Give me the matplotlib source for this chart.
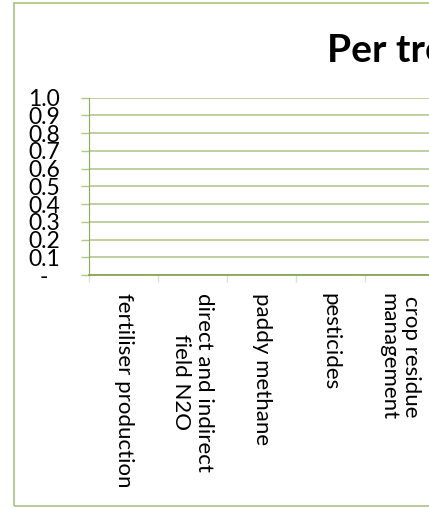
import matplotlib
matplotlib.use("Agg")
import matplotlib.pyplot as plt
from matplotlib.patches import Rectangle
import numpy as np

# Emission sources and their values (tonnes CO2e)
categories = [
    "fertiliser production",
    "direct and indirect\nfield N2O",
    "paddy methane",
    "pesticides",
    "crop residue\nmanagement",
]
values = [0, 0, 0, 0, 0]
y_ticks = [0.0, 0.1, 0.2, 0.3, 0.4, 0.5, 0.6, 0.7, 0.8, 0.9, 1.0]
title = "Per treatment"

W, H = 429, 508
DPI = 100
plt.rcParams["font.family"] = ["Lato", "DejaVu Sans"]

grid_c = "#b3c98c"
axis_c = "#80a04c"
tick_c = "#d9e3c7"

fig = plt.figure(figsize=(W / DPI, H / DPI), dpi=DPI)
fig.patch.set_facecolor("white")

# outer chart frame
fig.patches.append(Rectangle((13.5 / W, 2.5 / H), 1.0, (505.5 - 2.5) / H,
                             transform=fig.transFigure, fill=False,
                             edgecolor="#a9c47f", linewidth=1.2, zorder=0))

fig.text(327 / W, 1 - 62 / H, title, fontsize=28, fontweight="bold",
         ha="left", va="baseline", color="black")

left, right = 89, 89 + 69 * len(categories)
top, bottom = 97.7, 275
ax = fig.add_axes([left / W, 1 - bottom / H, (right - left) / W, (bottom - top) / H])

x = np.arange(len(categories))
ax.bar(x, values, width=0.6, color="#4f81bd")
ax.set_xlim(-0.5, len(categories) - 0.5)
ax.set_ylim(0, 1.0)

# accounting-style labels: zero shown as a dash
ax.set_yticks(y_ticks)
ax.set_yticklabels(["-  " if v == 0 else f"{v:.1f}" for v in y_ticks])
ax.tick_params(axis="y", length=8 * 0.72, width=1, color=grid_c,
               labelsize=16.5, pad=15, direction="out")
ax.yaxis.grid(True, color=grid_c, linewidth=1.2)
ax.set_axisbelow(True)

# boundary ticks between categories, labels at category centres
ax.set_xticks(np.arange(len(categories) + 1) - 0.5)
ax.set_xticklabels([])
ax.tick_params(axis="x", which="major", length=7 * 0.72, width=1, color=tick_c)
ax.set_xticks(x, minor=True)
ax.set_xticklabels(categories, minor=True, rotation=-90, fontsize=16,
                   ha="center", va="top")
ax.tick_params(axis="x", which="minor", length=0, pad=13)
for lab in ax.get_xticklabels(minor=True):
    lab.set_multialignment("center")

for s in ["top", "right"]:
    ax.spines[s].set_visible(False)
ax.spines["left"].set_color("#8aab5a")
ax.spines["bottom"].set_color(axis_c)
ax.spines["bottom"].set_linewidth(1.2)

fig.savefig("out.png", dpi=DPI)
